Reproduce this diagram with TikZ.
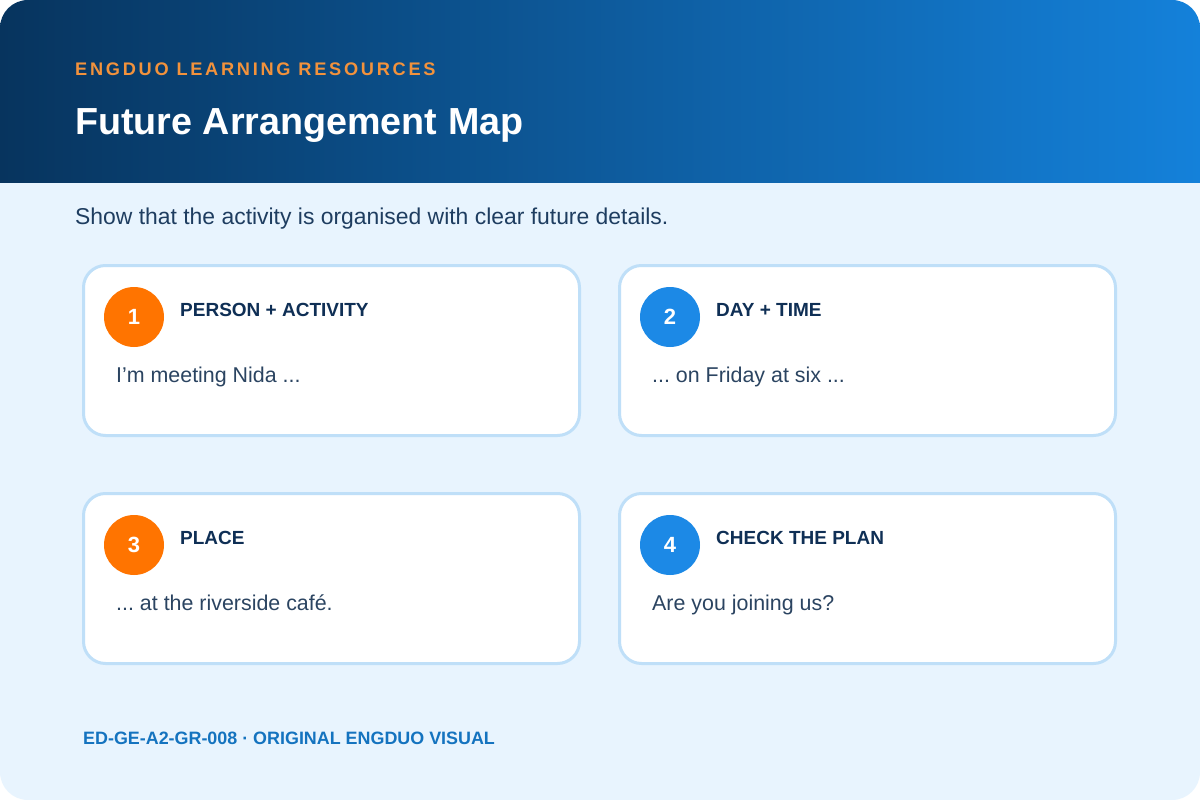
\documentclass[tikz,border=0pt]{standalone}
\usepackage{fontspec}
\setmainfont{Liberation Sans}
\usepackage{tikz}
\frenchspacing

\definecolor{hdrleft}{HTML}{07345E}
\definecolor{hdrright}{HTML}{1481DA}
\definecolor{pagebg}{HTML}{E8F4FE}
\definecolor{kicker}{HTML}{F2923C}
\definecolor{subtxt}{HTML}{1E3D60}
\definecolor{cardline}{HTML}{BFDFF8}
\definecolor{badgeorange}{HTML}{FF7400}
\definecolor{badgeblue}{HTML}{1C89E6}
\definecolor{headtxt}{HTML}{0F2F55}
\definecolor{bodytxt}{HTML}{2B4461}
\definecolor{foottxt}{HTML}{1473BF}

\tikzstyle{card} = [draw=cardline, line width=3pt, fill=white, rounded corners=22pt, minimum width=496pt, minimum height=170pt, inner sep=0pt, outer sep=0pt, anchor=north west]
\tikzstyle{badge} = [circle, minimum size=60pt, inner sep=0pt, text=white, font=\fontsize{22}{22}\selectfont\bfseries]
\tikzstyle{cardhead} = [anchor=base west, inner sep=0pt, text=headtxt, font=\fontsize{19}{21}\selectfont\bfseries]
\tikzstyle{cardtext} = [anchor=base west, inner sep=0pt, text=bodytxt, font=\fontsize{21.4}{23}\selectfont]

\begin{document}
\begin{tikzpicture}[x=1pt,y=-1pt]
\useasboundingbox (0,0) rectangle (1200,800);
\fill[white] (0,0) rectangle (1200,800);
\begin{scope}
\clip[rounded corners=28pt] (0,0) rectangle (1200,800);
\fill[pagebg] (0,0) rectangle (1200,800);
\shade[left color=hdrleft, right color=hdrright] (0,0) rectangle (1200,182);
\end{scope}
\node[anchor=base west, inner sep=0pt, text=kicker, font=\fontsize{18.2}{20}\selectfont\addfontfeatures{LetterSpace=15}\bfseries] (kick) at (75,76) {ENGDUO LEARNING RESOURCES};
\node[anchor=base west, inner sep=0pt, text=white, font=\fontsize{37.7}{40}\selectfont\bfseries] (title) at (75,134) {Future Arrangement Map};
\node[anchor=base west, inner sep=0pt, text=subtxt, font=\fontsize{22.9}{24}\selectfont] (sub) at (75,224) {Show that the activity is organised with clear future details.};
% cards
\node[card] (card1) at (83.5,265.5) {};
\node[card] (card2) at (619.5,265.5) {};
\node[card] (card3) at (83.5,493.5) {};
\node[card] (card4) at (619.5,493.5) {};
% badges
\node[badge, fill=badgeorange] (b1) at (134,317) {1};
\node[badge, fill=badgeblue] (b2) at (670,317) {2};
\node[badge, fill=badgeorange] (b3) at (134,545) {3};
\node[badge, fill=badgeblue] (b4) at (670,545) {4};
% headings
\node[cardhead] (h1) at (180,316) {PERSON + ACTIVITY};
\node[cardhead] (h2) at (716,316) {DAY + TIME};
\node[cardhead] (h3) at (180,544) {PLACE};
\node[cardhead] (h4) at (716,544) {CHECK THE PLAN};
% texts
\node[cardtext] (t1) at (116,382) {I’m meeting Nida ...};
\node[cardtext] (t2) at (652,382) {... on Friday at six ...};
\node[cardtext] (t3) at (116,610) {... at the riverside café.};
\node[cardtext] (t4) at (652,610) {Are you joining us?};
\node[anchor=base west, inner sep=0pt, text=foottxt, font=\fontsize{17.9}{20}\selectfont\bfseries] (foot) at (83,744) {ED-GE-A2-GR-008 · ORIGINAL ENGDUO VISUAL};
\end{tikzpicture}
\end{document}
